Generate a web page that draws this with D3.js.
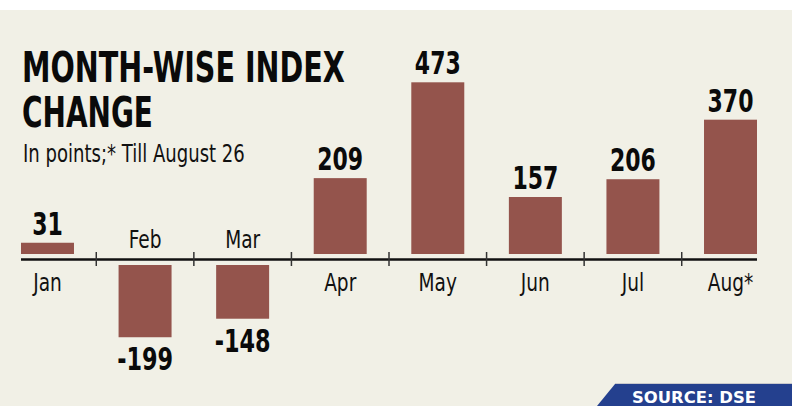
<!DOCTYPE html>
<html>
<head>
<meta charset="utf-8">
<script src="https://cdn.jsdelivr.net/npm/d3@7/dist/d3.min.js"></script>
<style>
  html, body { margin: 0; padding: 0; background: #ffffff; }
  svg { display: block; }
</style>
</head>
<body>
<svg id="chart" width="792" height="406"></svg>
<script>
// ---- data ----
const months = ["Jan", "Feb", "Mar", "Apr", "May", "Jun", "Jul", "Aug*"];
const values = [31, -199, -148, 209, 473, 157, 206, 370];
const valueLabels = ["31", "-199", "-148", "209", "473", "157", "206", "370"];
const titleLines = ["MONTH-WISE INDEX", "CHANGE"];
const subtitle = "In points;* Till August 26";
const sourceText = "SOURCE: DSE";

// ---- styles ----
const cream = "#f1f0e6";
const barColor = "#94544c";
const condensed = "'Liberation Sans Narrow', 'DejaVu Sans Condensed', 'Arial Narrow', sans-serif";

const svg = d3.select("#chart");
svg.append("rect").attr("x", 0).attr("y", 10).attr("width", 792).attr("height", 396).attr("fill", cream);

// scales
const x = d3.scaleBand().domain(months).range([21, 757]).paddingInner(0.457).paddingOuter(0);
const k = 0.363;
const yPos = d3.scaleLinear().domain([0, 500]).range([254, 254 - 500 * k]);
const yNeg = d3.scaleLinear().domain([0, -250]).range([265, 265 + 250 * k]);
const axisY = 259.5;

const data = months.map((m, i) => ({ m, v: values[i], label: valueLabels[i] }));

// bars
svg.append("g").selectAll("rect").data(data).join("rect")
  .attr("x", d => x(d.m))
  .attr("width", x.bandwidth())
  .attr("y", d => d.v >= 0 ? yPos(d.v) : yNeg(0))
  .attr("height", d => d.v >= 0 ? yPos(0) - yPos(d.v) : yNeg(d.v) - yNeg(0))
  .attr("fill", barColor);

// axis line + ticks
svg.append("line").attr("x1", 21).attr("x2", 757).attr("y1", axisY).attr("y2", axisY)
  .attr("stroke", "#111").attr("stroke-width", 2.5);
const gap = x.step() * x.paddingInner();
svg.append("g").selectAll("line").data(months.slice(1)).join("line")
  .attr("x1", d => x(d) - gap / 2).attr("x2", d => x(d) - gap / 2)
  .attr("y1", 252).attr("y2", 266)
  .attr("stroke", "#333").attr("stroke-width", 1.5);

// helper: place text at (px, py) and squeeze horizontally to a target width
function placeFitted(textSel, px, py, targetW, anchor) {
  const node = textSel.node();
  const w = node.getComputedTextLength();
  const sx = targetW / w;
  textSel.attr("x", 0).attr("y", 0).attr("text-anchor", anchor || "start")
    .attr("transform", `translate(${px},${py}) scale(${sx},1)`);
}

// month labels
const monthScale = 0.86;
svg.append("g").selectAll("text").data(data).join("text")
  .attr("font-family", condensed)
  .attr("font-size", 24)
  .attr("fill", "#111")
  .text(d => d.m)
  .each(function(d) {
    const t = d3.select(this);
    const w = this.getComputedTextLength();
    placeFitted(t, x(d.m) + x.bandwidth() / 2, d.v >= 0 ? 291 : 248, w * monthScale, "middle");
  });

// value labels
svg.append("g").selectAll("text").data(data).join("text")
  .attr("font-family", condensed)
  .attr("font-weight", "bold")
  .attr("font-size", 32)
  .attr("fill", "#0a0a0a")
  .text(d => d.label)
  .each(function(d) {
    const t = d3.select(this);
    const digits = d.label.replace("-", "").length;
    const target = digits * 15.3 + (d.v < 0 ? 10 : 0);
    placeFitted(t, x(d.m) + x.bandwidth() / 2,
      d.v >= 0 ? yPos(d.v) - 8 : yNeg(d.v) + 33, target, "middle");
  });

// title
const titleW = [323, 131];
const titleY = [82, 127];
titleLines.forEach((line, i) => {
  const t = svg.append("text")
    .attr("font-family", condensed).attr("font-weight", "bold").attr("font-size", 43)
    .attr("fill", "#0a0a0a")
    .text(line);
  placeFitted(t, 22, titleY[i], titleW[i], "start");
});

// subtitle
const st = svg.append("text")
  .attr("font-family", condensed).attr("font-size", 24)
  .attr("fill", "#111")
  .text(subtitle);
placeFitted(st, 23, 161.5, 222, "start");

// source box
svg.append("path")
  .attr("d", "M615,384 L792,384 L792,406 L597,406 Z")
  .attr("fill", "#24408e");
svg.append("line").attr("x1", 615).attr("x2", 792).attr("y1", 383.5).attr("y2", 383.5)
  .attr("stroke", "#c9c9cc").attr("stroke-width", 1);
const src = svg.append("text")
  .attr("font-family", "'DejaVu Sans', Verdana, sans-serif").attr("font-weight", "bold")
  .attr("font-size", 16).attr("fill", "#ffffff")
  .text(sourceText);
placeFitted(src, 632, 403.3, 124, "start");
</script>
</body>
</html>
